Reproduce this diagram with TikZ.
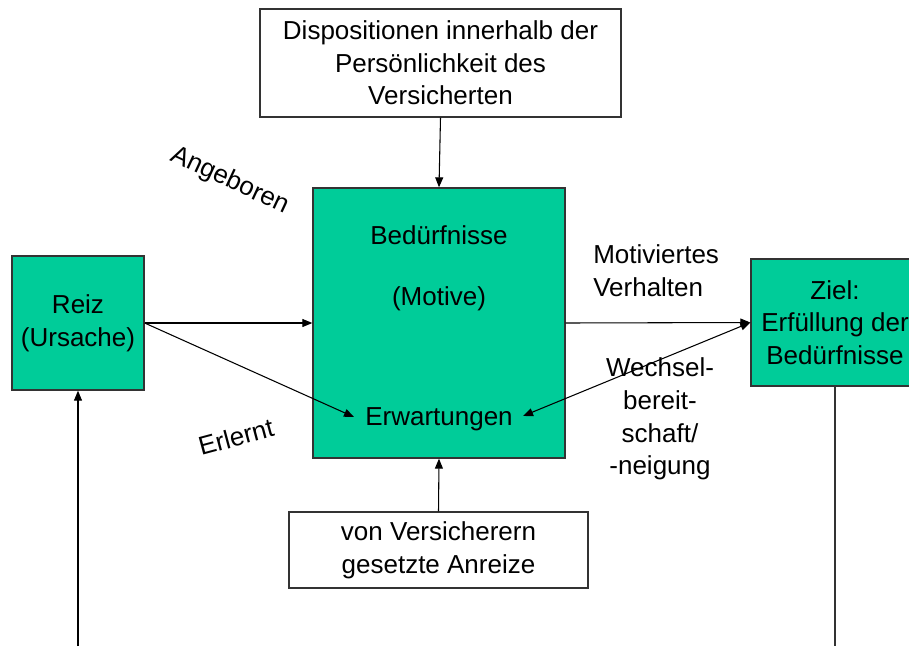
\documentclass[tikz,border=0pt]{standalone}
\usepackage{fontspec}
\setmainfont{Liberation Sans}
\usetikzlibrary{arrows.meta}
\definecolor{boxgreen}{HTML}{00CC99}
\definecolor{edge}{HTML}{333333}
\tikzset{
  every node/.style={font=\fontsize{19.5pt}{24.5pt}\selectfont},
  greenbox/.style={draw=edge, line width=1pt, fill=boxgreen, rectangle, inner sep=0pt},
  whitebox/.style={draw=edge, line width=1pt, fill=white, rectangle, inner sep=0pt, align=center},
  lbl/.style={inner sep=0pt, align=center},
  conn/.style={draw=black, line width=0.8pt, -{Triangle[length=7.5pt,width=6pt]}},
  plain/.style={draw=edge, line width=0.8pt}
}
\begin{document}
\begin{tikzpicture}[x=0.75pt,y=-0.75pt]
\useasboundingbox (0,0) rectangle (909,646);
\clip (0,0) rectangle (909,646);
\fill[white] (0,0) rectangle (909,646);
% boxes
\node[whitebox, minimum width=270.75pt, minimum height=81pt] (disp) at (440.5,63)
  {Dispositionen innerhalb der\\Persönlichkeit des\\Versicherten};
\node[greenbox, minimum width=189pt, minimum height=202.5pt] (bed) at (439,323) {};
\node[whitebox, minimum width=224.25pt, minimum height=57pt] (anr) at (438.5,550)
  {von Versicherern\\gesetzte Anreize};
\node[greenbox, minimum width=99pt, minimum height=100.5pt, align=center] (reiz) at (78,323)
  {Reiz\\(Ursache)};
\node[greenbox, minimum width=126pt, minimum height=95.25pt, align=center] (ziel) at (835,322.5)
  {Ziel:\\Erfüllung der\\Bedürfnisse};
% texts in Bedürfnisse box
\node[lbl] (bedt) at (439,235) {Bedürfnisse};
\node[lbl] (mot) at (439,299) {(Motive)};
\node[lbl] (erw) at (439,419) {Erwartungen};
% free labels
\node[lbl, align=left, anchor=west] (verh) at (593,271) {Motiviertes\\Verhalten};
\node[lbl] (wech) at (660,419) {Wechsel-\\bereit-\\schaft/\\-neigung};
\node[lbl, rotate=-25] (ang) at (230,181) {Angeboren};
\node[lbl, rotate=15] (erl) at (236,437) {Erlernt};
% coordinates
\coordinate (erwL) at (354,417);
\coordinate (erwR) at (523,416);
\coordinate (botL) at (78,646);
\coordinate (botR) at (835,646);
% connectors
\draw[conn] (disp.south) -- (bed.north);
\draw[conn] (anr.north) -- (bed.south);
\draw[conn] (reiz.east) -- (bed.west);
\draw[conn] (reiz.east) -- (erwL);
\draw[conn] (bed.east) -- (ziel.west);
\draw[conn, {Triangle[length=7.5pt,width=6pt]}-{Triangle[length=7.5pt,width=6pt]}] (erwR) -- (ziel.west);
\draw[conn] (botL) -- (reiz.south);
\draw[plain] (ziel.south) -- (botR);
\end{tikzpicture}
\end{document}
